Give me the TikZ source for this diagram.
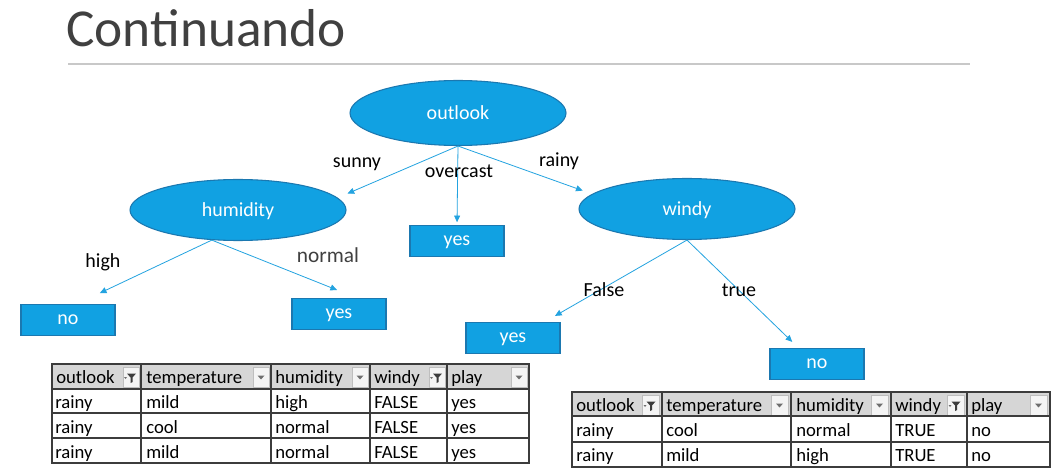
\documentclass[tikz,border=0pt]{standalone}
\usepackage{fontspec}
\setmainfont{Carlito}
\usetikzlibrary{shapes.geometric}
\usetikzlibrary{arrows.meta}
\usetikzlibrary{positioning}

\begin{document}
\begin{tikzpicture}[x=0.75pt,y=-0.75pt,
    decision/.style={ellipse, draw=nodeedge, line width=0.8pt, fill=nodeblue, text=white, minimum width=162pt, minimum height=45.75pt, inner sep=0pt, text depth=0pt, font=\fontsize{15}{18}\selectfont},
    leaf/.style={rectangle, draw=nodeedge, line width=0.9pt, fill=nodeblue, text=white, minimum width=70.5pt, minimum height=23.25pt, inner sep=0pt, text depth=0pt, font=\fontsize{15}{18}\selectfont},
    branch/.style={draw=linkblue, line width=0.6pt, -{Triangle[length=5pt,width=4.5pt]}},
    edgelabel/.style={inner sep=0pt, font=\fontsize{15}{18}\selectfont},
    cell/.style={anchor=base west, inner sep=0pt, font=\fontsize{14}{17}\selectfont},
    tablegrid/.style={draw=gridgray, line width=0.8pt},
    button/.style={fill=btnfill, draw=btnedge, line width=0.4pt}]
            \definecolor{nodeblue}{RGB}{17,161,226}
            \definecolor{nodeedge}{RGB}{27,120,176}
            \definecolor{linkblue}{RGB}{35,163,224}
            \definecolor{titlegray}{RGB}{64,64,64}
            \definecolor{rulegray}{RGB}{200,200,200}
            \definecolor{headgray}{RGB}{214,214,214}
            \definecolor{gridgray}{RGB}{60,60,60}
            \definecolor{btnfill}{RGB}{244,244,244}
            \definecolor{btnedge}{RGB}{190,190,190}
            \definecolor{icongray}{RGB}{110,110,110}
            \useasboundingbox (0,0) rectangle (1052,470);
            \fill[white] (0,0) rectangle (1052,470);

            % title
            \node[anchor=base west, inner sep=0pt, text=titlegray, font=\fontsize{40}{48}\selectfont] (title) at (66,47) {Continuando};
            \draw[rulegray, line width=0.8pt] (68,64) -- (970,64);

            % tree
            \node[decision, minimum height=48.75pt] (outlook) at (458,113) {outlook};
            \node[decision] (humidity) at (238,210) {humidity};
            \node[decision] (windy) at (687,209) {windy};
            \node[leaf] (overcastyes) at (457,241) {yes};
            \node[leaf] (highno) at (68,320) {no};
            \node[leaf] (normalyes) at (339,314) {yes};
            \node[leaf] (falseyes) at (513,338) {yes};
            \node[leaf] (trueno) at (817,364) {no};

            \draw[branch, shorten >=8pt] (outlook.south) -- (humidity.7);
            \draw[branch, shorten >=2pt] (outlook.south) -- (overcastyes.north);
            \draw[branch, shorten >=7.5pt] (outlook.south) -- (windy.171);
            \draw[branch, shorten >=19pt] (humidity.-131) -- (highno.61);
            \draw[branch, shorten >=16pt] (humidity.-131) -- (normalyes.42);
            \draw[branch, shorten >=9pt] (windy.south) -- (falseyes.27);
            \draw[branch, shorten >=6.5pt] (windy.south) -- (trueno.139);

            \node[edgelabel] (sunny) at (357,164) {sunny};
            \node[edgelabel] (overcast) at (459,171) {overcast};
            \node[edgelabel] (rainy) at (559,161) {rainy};
            \node[edgelabel] (high) at (103,262) {high};
            \node[edgelabel, text=titlegray, font=\fontsize{16}{19}\selectfont] (normal) at (328,255) {normal};
            \node[edgelabel] (false) at (604,290) {False};
            \node[edgelabel] (true) at (739,290) {true};

            % table of the FALSE branch
            \fill[headgray] (52,364) rectangle (529,389);
            \foreach \r in {141,271,370,447,529}
                \draw[button] (\r-18,367) rectangle (\r-2,387);
            \foreach \r in {271,370,529}
                \fill[icongray] (\r-13.5,375.5) -- (\r-6.5,375.5) -- (\r-10,379.5) -- cycle;
            \foreach \r in {141,447} {
                \fill[gridgray] (\r-14,373.5) -- (\r-5,373.5) -- (\r-8.5,377.5) -- (\r-8.5,382) -- (\r-10.5,383) -- (\r-10.5,377.5) -- cycle;
                \fill[icongray] (\r-17,377) -- (\r-14,377) -- (\r-15.5,379) -- cycle;
            }
            \draw[tablegrid] (52,364) rectangle (529,463);
            \foreach \y in {389,413,438}
                \draw[tablegrid] (52,\y) -- (529,\y);
            \foreach \x in {141,271,370,447}
                \draw[tablegrid] (\x,364) -- (\x,463);
            \foreach \x/\txt [count=\i] in {56/outlook,146/temperature,275/humidity,374/windy,451/play}
                \node[cell] (fh\i) at (\x,383) {\txt};
            \foreach \y/\a/\b/\c/\d/\e [count=\j] in {408/rainy/mild/high/FALSE/yes,433/rainy/cool/normal/FALSE/yes,458/rainy/mild/normal/FALSE/yes} {
                \node[cell] (fa\j) at (55,\y) {\a};
                \node[cell] (fb\j) at (146,\y) {\b};
                \node[cell] (fc\j) at (275,\y) {\c};
                \node[cell] (fd\j) at (374,\y) {\d};
                \node[cell] (fe\j) at (451,\y) {\e};
            }

            % table of the TRUE branch
            \fill[headgray] (572,392) rectangle (1050,416);
            \foreach \r in {662,791,891,967,1050}
                \draw[button] (\r-20,395) rectangle (\r-3,415);
            \foreach \r in {791,891,1050}
                \fill[icongray] (\r-15,403.5) -- (\r-8,403.5) -- (\r-11.5,407.5) -- cycle;
            \foreach \r in {662,967} {
                \fill[gridgray] (\r-15.5,401.5) -- (\r-6.5,401.5) -- (\r-10,405.5) -- (\r-10,410) -- (\r-12,411) -- (\r-12,405.5) -- cycle;
                \fill[icongray] (\r-18.5,405) -- (\r-15.5,405) -- (\r-17,407) -- cycle;
            }
            \draw[tablegrid] (572,392) rectangle (1050,467);
            \foreach \y in {416,442}
                \draw[tablegrid] (572,\y) -- (1050,\y);
            \foreach \x in {662,791,891,967}
                \draw[tablegrid] (\x,392) -- (\x,467);
            \foreach \x/\txt [count=\i] in {576/outlook,666/temperature,796/humidity,895/windy,971/play}
                \node[cell] (th\i) at (\x,411) {\txt};
            \foreach \y/\a/\b/\c/\d/\e [count=\j] in {436/rainy/cool/normal/TRUE/no,461/rainy/mild/high/TRUE/no} {
                \node[cell] (ta\j) at (576,\y) {\a};
                \node[cell] (tb\j) at (666,\y) {\b};
                \node[cell] (tc\j) at (796,\y) {\c};
                \node[cell] (td\j) at (895,\y) {\d};
                \node[cell] (te\j) at (971,\y) {\e};
            }
\end{tikzpicture}
\end{document}
